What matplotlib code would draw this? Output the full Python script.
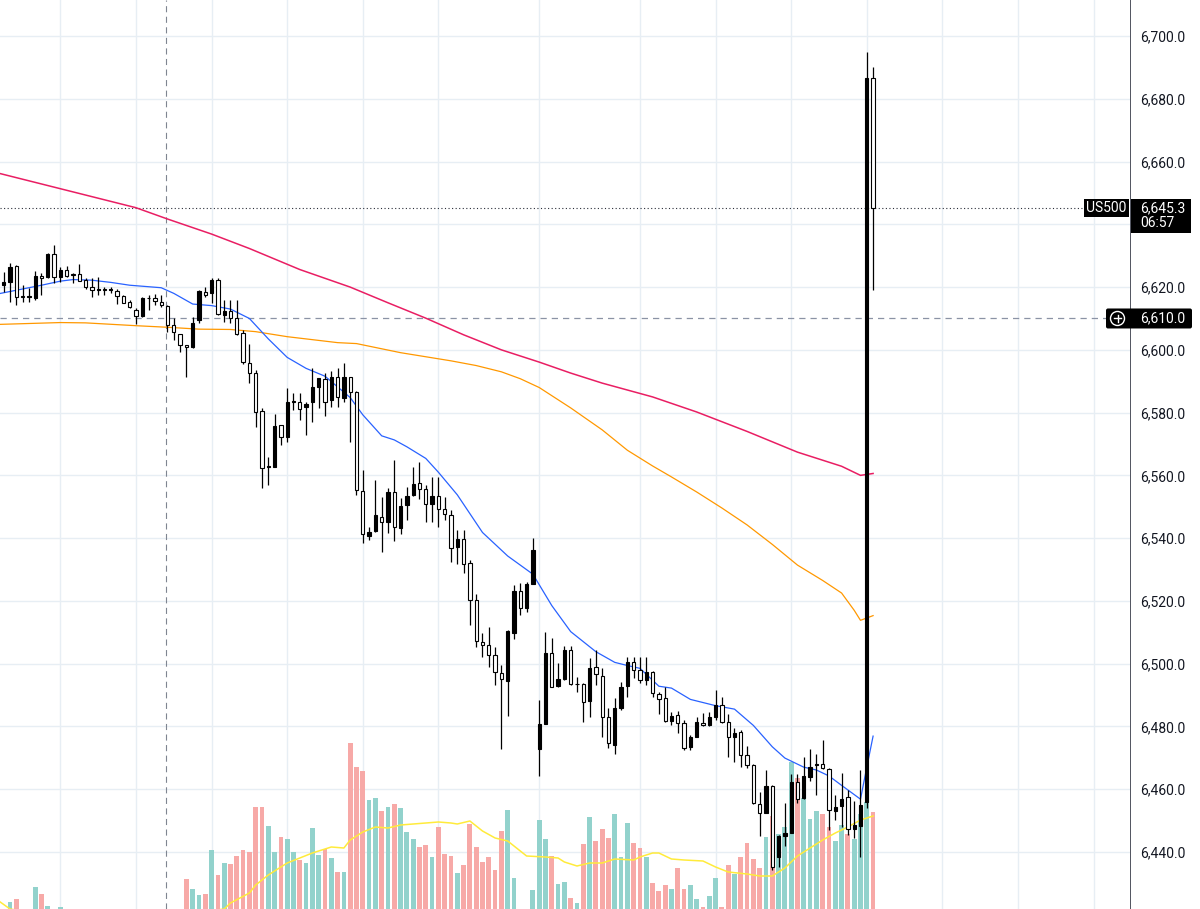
import matplotlib
matplotlib.use("Agg")
import matplotlib.pyplot as plt
from matplotlib.patches import Rectangle, FancyBboxPatch, Circle

plt.rcParams['font.family'] = ['Roboto', 'DejaVu Sans']

# ---- OHLC, one bar per slot ----
opens = [
    6620.6, 6621.5, 6626.7, 6617.2, 6617.0, 6616.6, 6623.5, 6623.3, 6630.5, 6623.3,
    6625.4, 6624.2, 6624.2, 6622.2, 6619.9, 6619.1, 6619.2, 6619.1, 6618.7, 6617.1,
    6615.3, 6612.7, 6610.8, 6616.4, 6616.6, 6615.2, 6613.9, 6607.9, 6604.9, 6601.5,
    6601.0, 6609.5, 6618.5, 6618.0, 6622.2, 6611.1, 6612.5, 6610.0, 6605.5, 6595.9,
    6592.7, 6580.4, 6562.6, 6562.8, 6576.0, 6572.3, 6583.4, 6583.5, 6581.7, 6583.3,
    6588.3, 6590.8, 6584.0, 6591.4, 6584.8, 6591.2, 6586.6, 6555.1, 6540.8, 6542.3,
    6546.8, 6545.2, 6554.8, 6543.1, 6550.4, 6553.7, 6557.6, 6555.5, 6550.9, 6553.4,
    6549.2, 6547.3, 6537.2, 6539.6, 6532.2, 6520.3, 6507.0, 6505.9, 6502.7, 6497.1,
    6494.5, 6509.9, 6523.2, 6517.6, 6525.5, 6472.7, 6480.9, 6503.5, 6492.9, 6495.0,
    6504.3, 6493.4, 6493.5, 6488.2, 6498.8, 6496.0, 6482.9, 6474.0, 6486.0, 6492.9,
    6500.6, 6497.9, 6494.8, 6497.4, 6490.3, 6488.9, 6481.8, 6483.6, 6481.2, 6473.5,
    6476.7, 6481.2, 6480.4, 6482.9, 6486.8, 6481.5, 6476.7, 6478.3, 6470.9, 6467.7,
    6455.3, 6452.3, 6461.1, 6438.3, 6445.1, 6446.1, 6462.4, 6457.1, 6464.0, 6467.8,
    6468.0, 6466.3, 6453.1, 6454.6, 6457.4, 6447.2, 6448.2, 6456.0, 6686.6,
]
highs = [
    6624.9, 6627.6, 6627.0, 6620.6, 6619.6, 6625.2, 6624.6, 6631.0, 6633.4, 6626.5,
    6626.7, 6624.6, 6627.3, 6623.0, 6622.8, 6623.1, 6620.1, 6620.1, 6619.3, 6617.5,
    6615.9, 6613.2, 6616.9, 6617.5, 6617.7, 6617.5, 6614.3, 6610.0, 6605.2, 6601.7,
    6610.6, 6619.0, 6620.1, 6622.8, 6622.8, 6615.9, 6615.9, 6615.9, 6606.3, 6602.0,
    6593.6, 6581.5, 6565.9, 6579.7, 6576.2, 6587.7, 6586.1, 6586.1, 6583.5, 6594.1,
    6591.1, 6592.5, 6593.3, 6594.1, 6595.9, 6591.4, 6586.8, 6561.7, 6543.6, 6558.5,
    6553.0, 6555.9, 6564.9, 6552.7, 6556.4, 6562.7, 6564.3, 6556.9, 6559.6, 6559.6,
    6553.2, 6548.9, 6542.6, 6542.6, 6533.0, 6522.2, 6509.9, 6511.8, 6505.4, 6499.5,
    6510.6, 6525.1, 6525.6, 6526.1, 6539.9, 6488.4, 6510.2, 6508.1, 6500.1, 6505.6,
    6505.6, 6495.8, 6493.8, 6501.7, 6504.3, 6498.5, 6485.7, 6488.9, 6494.2, 6502.2,
    6502.2, 6502.2, 6502.2, 6497.6, 6491.1, 6492.4, 6484.7, 6485.0, 6482.0, 6477.2,
    6483.1, 6484.3, 6484.7, 6491.6, 6489.4, 6484.1, 6479.4, 6479.0, 6473.7, 6468.0,
    6459.2, 6466.1, 6461.3, 6445.4, 6455.5, 6464.8, 6464.8, 6470.1, 6472.7, 6471.2,
    6475.6, 6466.6, 6458.1, 6465.2, 6459.7, 6456.3, 6466.1, 6694.9, 6690.1,
]
lows = [
    6618.5, 6615.3, 6614.3, 6615.3, 6615.3, 6616.0, 6617.5, 6623.0, 6621.2, 6621.7,
    6623.3, 6621.2, 6621.8, 6619.3, 6616.9, 6617.5, 6617.5, 6618.0, 6614.6, 6614.8,
    6613.2, 6608.2, 6610.6, 6612.7, 6614.3, 6613.5, 6605.8, 6603.1, 6599.2, 6591.4,
    6600.5, 6608.4, 6616.9, 6614.8, 6611.1, 6609.0, 6608.6, 6604.7, 6595.5, 6589.3,
    6575.4, 6555.9, 6556.9, 6562.6, 6569.7, 6570.7, 6580.8, 6577.6, 6572.9, 6577.1,
    6581.5, 6578.8, 6581.9, 6581.9, 6583.5, 6570.7, 6553.7, 6538.3, 6539.4, 6542.0,
    6535.7, 6541.5, 6539.2, 6541.3, 6545.8, 6553.4, 6552.4, 6545.2, 6545.2, 6543.6,
    6545.7, 6532.5, 6531.9, 6528.8, 6512.3, 6505.4, 6502.0, 6499.0, 6493.2, 6472.7,
    6483.3, 6507.7, 6515.5, 6516.5, 6525.3, 6464.2, 6480.7, 6492.4, 6492.6, 6494.8,
    6493.2, 6491.0, 6481.5, 6483.1, 6493.2, 6476.7, 6473.0, 6471.2, 6485.2, 6489.5,
    6495.3, 6493.7, 6493.2, 6489.5, 6484.1, 6481.5, 6480.4, 6477.8, 6472.4, 6472.4,
    6476.5, 6480.1, 6480.1, 6482.0, 6481.0, 6470.3, 6468.7, 6467.1, 6466.6, 6455.3,
    6445.1, 6452.3, 6434.2, 6435.3, 6441.9, 6445.9, 6455.5, 6456.7, 6462.7, 6458.1,
    6466.4, 6447.0, 6450.2, 6448.0, 6445.4, 6444.3, 6438.5, 6454.0, 6619.0,
]
closes = [
    6621.5, 6626.5, 6616.9, 6616.9, 6617.2, 6623.5, 6623.0, 6630.7, 6623.3, 6625.6,
    6623.6, 6624.0, 6622.0, 6619.9, 6619.0, 6619.4, 6619.0, 6619.3, 6617.1, 6615.0,
    6613.5, 6610.8, 6616.4, 6616.5, 6615.6, 6614.2, 6607.9, 6605.8, 6601.7, 6601.0,
    6608.6, 6618.8, 6617.5, 6622.2, 6611.4, 6612.5, 6610.0, 6605.2, 6596.2, 6592.6,
    6580.3, 6562.5, 6562.8, 6575.7, 6572.1, 6583.5, 6583.6, 6581.3, 6582.9, 6588.3,
    6590.9, 6583.5, 6591.4, 6585.0, 6591.2, 6586.6, 6555.3, 6541.3, 6541.8, 6547.3,
    6545.2, 6554.8, 6543.4, 6550.2, 6553.4, 6557.4, 6555.5, 6550.9, 6553.5, 6549.2,
    6547.7, 6536.7, 6539.6, 6531.9, 6520.3, 6507.3, 6505.9, 6502.7, 6497.4, 6495.0,
    6510.5, 6523.2, 6517.6, 6525.3, 6536.2, 6480.9, 6503.5, 6492.6, 6495.0, 6504.3,
    6493.5, 6493.6, 6487.9, 6498.5, 6496.7, 6483.1, 6474.6, 6486.0, 6492.4, 6500.6,
    6497.9, 6494.8, 6497.4, 6490.5, 6488.6, 6481.8, 6483.3, 6481.0, 6473.0, 6476.5,
    6481.5, 6480.4, 6482.9, 6486.8, 6481.5, 6476.7, 6478.0, 6470.9, 6467.7, 6455.5,
    6452.5, 6461.1, 6435.3, 6445.1, 6446.1, 6462.4, 6456.7, 6464.2, 6466.9, 6468.0,
    6466.6, 6453.3, 6454.4, 6457.0, 6447.2, 6448.6, 6454.9, 6686.6, 6645.3,
]
# volume in arbitrary units (pane baseline sits below the visible area)
volumes = [
    20, 32, 35, 18, 21, 47, 40, 28, 22, 27,
    14, 10, 16, 12, 18, 9, 11, 8, 15, 13,
    17, 22, 20, 12, 10, 16, 21, 19, 23, 55,
    45, 39, 40, 84, 59, 71, 70, 78, 84, 82,
    127, 127, 108, 82, 97, 95, 82, 74, 71, 106,
    79, 85, 76, 62, 62, 191, 167, 163, 134, 136,
    123, 127, 130, 126, 102, 95, 87, 89, 77, 107,
    80, 78, 61, 69, 110, 87, 72, 77, 64, 103,
    124, 56, 18, 14, 44, 114, 95, 78, 50, 52,
    36, 31, 90, 117, 93, 105, 96, 120, 77, 111,
    91, 86, 77, 51, 43, 49, 45, 66, 45, 49,
    35, 27, 38, 56, 27, 69, 60, 77, 91, 75,
    66, 97, 118, 100, 107, 172, 156, 136, 115, 123,
    120, 107, 93, 109, 100, 95, 120, 132, 122,
]

# moving averages sampled at bar slots
ma_fast_idx = [-1, 3, 6, 9, 11, 14, 17, 20, 25, 27, 30, 33, 36, 39, 42, 45, 48, 51, 53, 55,
               57, 60, 62, 64, 67, 69, 72, 76, 80, 84, 87, 90, 94, 97, 99, 101, 104, 106, 109, 113,
               116, 119, 122, 124, 127, 129, 131, 133, 136, 137, 138]
ma_fast = [6617.8, 6619.4, 6620.6, 6621.9, 6622.4, 6622.2, 6621.5, 6620.6, 6619.8, 6618.0,
           6614.6, 6614.1, 6613.0, 6610.0, 6603.5, 6597.6, 6594.1, 6591.6, 6588.2, 6584.8,
           6579.3, 6572.6, 6571.3, 6569.1, 6565.4, 6561.0, 6553.8, 6541.8, 6534.3, 6528.5,
           6518.5, 6510.2, 6503.8, 6500.4, 6499.4, 6498.5, 6492.8, 6492.2, 6488.6, 6486.6,
           6485.5, 6480.3, 6473.5, 6469.9, 6467.0, 6466.1, 6464.2, 6461.2, 6456.8, 6467.0,
           6476.9]
ma_mid_idx = [-1, 9, 13, 21, 26, 31, 36, 40, 45, 53, 56, 63, 71, 75, 79, 82, 85, 90, 95, 99,
              103, 106, 110, 114, 118, 122, 126, 130, 133, 135, 136, 138]
ma_mid = [6608.1, 6608.7, 6608.6, 6607.7, 6607.2, 6606.6, 6606.5, 6605.8, 6604.2, 6602.3,
          6602.0, 6599.1, 6596.5, 6595.0, 6593.0, 6590.8, 6588.0, 6581.5, 6574.5, 6568.0,
          6563.0, 6559.5, 6554.7, 6549.6, 6544.2, 6538.0, 6531.4, 6526.5, 6522.5, 6517.0,
          6513.8, 6515.3]
ma_slow_idx = [-1, 21, 26, 33, 39, 47, 55, 61, 67, 73, 79, 85, 90, 95, 103, 110, 118, 126,
               133, 136, 137, 138]
ma_slow = [6656.4, 6645.3, 6641.7, 6636.9, 6632.3, 6625.6, 6620.0, 6615.0, 6610.1, 6604.8,
           6600.0, 6596.1, 6592.6, 6589.4, 6585.0, 6580.2, 6574.0, 6567.4, 6562.9, 6560.0,
           6560.3, 6560.6]
vol_ma_idx = [-1, 1, 5, 12, 20, 28, 35, 36, 39, 40, 42, 43, 45, 47, 49, 52, 54, 55, 57, 59,
              61, 63, 65, 67, 69, 71, 72, 74, 76, 78, 80, 81, 83, 86, 88, 89, 91, 93, 95, 97,
              100, 101, 103, 104, 106, 108, 111, 113, 115, 118, 120, 122, 124, 126, 128, 130,
              132, 134, 136, 138]
vol_ma = [34, 25, 21, 17, 16, 19, 25, 31, 41, 49, 59, 63, 71, 76, 81, 87, 86, 94, 102, 107,
          106, 109, 110, 111, 112, 111, 110, 113, 103, 96, 93, 88, 78, 77, 76, 72, 68, 71, 71, 75,
          74, 77, 81, 81, 75, 74, 73, 67, 62, 60, 58, 58, 66, 78, 86, 94, 101, 107, 114, 118]

price_ticks = [6440, 6460, 6480, 6500, 6520, 6540, 6560, 6580, 6600, 6620, 6640, 6660, 6680, 6700]
price_labels = ['6,440.0', '6,460.0', '6,480.0', '6,500.0', '6,520.0', '6,540.0', '6,560.0',
                '6,580.0', '6,600.0', '6,620.0', '', '6,660.0', '6,680.0', '6,700.0']
time_grid = [9, 21, 33, 45, 57, 69, 85, 101, 113, 125, 137, 149, 161, 173]
symbol = 'US500'
countdown = '06:57'
alert_price = 6610.0
crosshair_slot = 25.76

# ---- figure ----
W, H = 1200, 909
fig = plt.figure(figsize=(W / 100, H / 100), dpi=100)
fig.patch.set_facecolor('white')
ax = fig.add_axes([0, 0, 1130 / W, 1])
ax.set_xlim(-0.587, 178.78)
ax.set_ylim(6421.8, 6711.5)

ax.set_xticks(time_grid)
ax.set_yticks(price_ticks)
ax.set_yticklabels(price_labels)
ax.yaxis.tick_right()
ax.tick_params(axis='x', length=0, labelbottom=False)
ax.tick_params(axis='y', length=0, pad=7, labelsize=10, labelcolor='#131722')
ax.grid(True, color='#e7eef4', lw=1.0)
ax.set_axisbelow(True)
for s in ['top', 'left', 'bottom']:
    ax.spines[s].set_visible(False)
ax.spines['right'].set_color('#50535e')
ax.spines['right'].set_linewidth(0.7)

idx = list(range(len(closes)))
up = [c >= o for o, c in zip(opens, closes)]

# volume pane: 1 unit = 1 px, baseline 25 px under the bottom edge
vol_off = 25
vol_colors = ['#92d2cc' if u else '#f7a9a7' for u in up]
ax.bar(idx, [v / H for v in volumes], width=0.76, bottom=-vol_off / H,
       color=vol_colors, transform=ax.get_xaxis_transform(), zorder=1.5)
ax.plot(vol_ma_idx, [(v - vol_off) / H for v in vol_ma], color='#ffeb3b', lw=1.1,
        transform=ax.get_xaxis_transform(), zorder=1.6)

# moving averages
ax.plot(ma_slow_idx, ma_slow, color='#e91e63', lw=1.1, zorder=2)
ax.plot(ma_mid_idx, ma_mid, color='#ff9800', lw=0.9, zorder=2)
ax.plot(ma_fast_idx, ma_fast, color='#2962ff', lw=0.9, zorder=2)

# reference lines
ax.axvline(crosshair_slot, color='#7f8591', lw=0.8, dashes=(5.5, 4.0), zorder=1.8)
ax.axhline(alert_price, color='#8b93a5', lw=0.9, dashes=(5.0, 4.0), zorder=1.8)
ax.axhline(closes[-1], color='#2a2e39', lw=0.8, dashes=(1.0, 2.2), zorder=1.8)

# candles: filled = up, hollow = down
bw = 0.52
ax.vlines(idx, lows, highs, color='black', lw=0.9, zorder=3)
for i in idx:
    lo = min(opens[i], closes[i])
    hgt = max(abs(closes[i] - opens[i]), 0.25)
    ax.add_patch(Rectangle((i - bw / 2, lo), bw, hgt, facecolor='black' if up[i] else 'white',
                           edgecolor='black', lw=0.8, zorder=4))

# ---- price scale labels (pixel overlay) ----
def price_to_px(p):
    return H - ax.transData.transform((0, p))[1]

ov = fig.add_axes([0, 0, 1, 1])
ov.set_xlim(0, W)
ov.set_ylim(H, 0)
ov.axis('off')
ov.patch.set_alpha(0)

y_last = price_to_px(closes[-1])
ov.add_patch(Rectangle((1084, y_last - 8.5), 45, 17.5, fc='black', ec='none'))
ov.text(1106.5, y_last, symbol, color='white', ha='center', va='center', fontsize=10)
ov.add_patch(Rectangle((1131, y_last - 8.5), 60, 34, fc='black', ec='none'))
ov.text(1140, y_last + 0.5, f'{closes[-1]:,.1f}', color='white', ha='left', va='center',
        fontsize=10)
ov.text(1140, y_last + 15.5, countdown, color='white', ha='left', va='center', fontsize=10)

y_al = price_to_px(alert_price)
ov.add_patch(FancyBboxPatch((1106, y_al - 10), 86, 20, boxstyle='round,pad=0,rounding_size=2',
                            fc='black', ec='none'))
ov.add_patch(Circle((1117.5, y_al), 7, fc='none', ec='white', lw=1.0))
ov.plot([1113.8, 1121.2], [y_al, y_al], color='white', lw=1.0)
ov.plot([1117.5, 1117.5], [y_al - 3.7, y_al + 3.7], color='white', lw=1.0)
ov.text(1140, y_al, f'{alert_price:,.1f}', color='white', ha='left', va='center', fontsize=10)

fig.savefig('out.png', dpi=100)
